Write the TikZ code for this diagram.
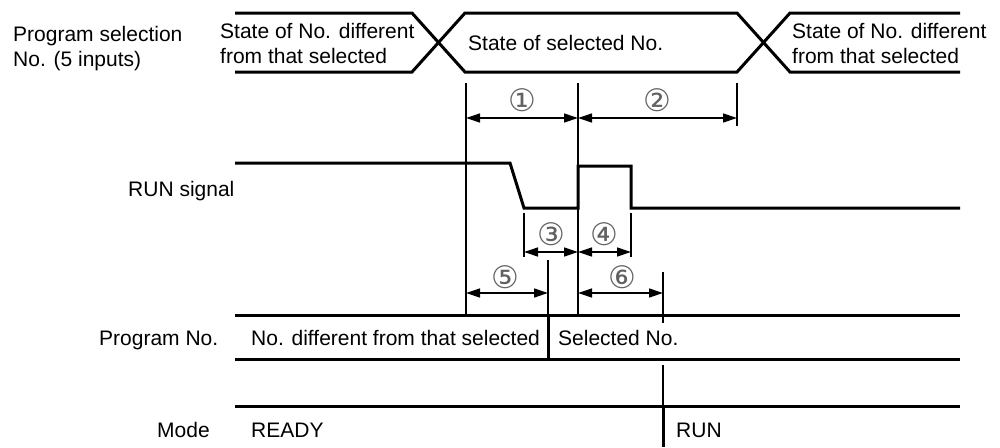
\documentclass[tikz,border=0pt]{standalone}
\usepackage{fontspec}
\setmainfont{Liberation Sans}
\newfontfamily\circfont{DejaVu Sans}
\usetikzlibrary{arrows.meta}
\begin{document}
\begin{tikzpicture}[x=1pt,y=-1pt,
  sig/.style={line width=3pt},
  guide/.style={line width=1.4pt},
  dim/.style={line width=1.3pt,{Triangle[length=14pt,width=9pt]}-{Triangle[length=14pt,width=9pt]}},
  txt/.style={inner sep=0pt,font=\fontsize{21}{25}\selectfont,anchor=base west,align=left},
  num/.style={inner sep=0pt,font=\circfont\fontsize{31}{31}\selectfont,text=black!62},
]
\useasboundingbox (0,0) rectangle (1000,447);

% ---- labels on the left
\node[txt] (lsel1) at (13,41) {Program selection};
\node[txt] (lsel2) at (13,66) {No. (5 inputs)};
\node[txt] (lrun) at (128,196) {RUN signal};
\node[txt] (lprog) at (99,345) {Program No.};
\node[txt] (lmode) at (157,437) {Mode};

% ---- program selection bus
\draw[sig] (235,13) -- (412,13) -- (465,72) -- (737,72) -- (790,13) -- (960,13);
\draw[sig] (235,72) -- (412,72) -- (465,13) -- (737,13) -- (790,72) -- (960,72);
\node[txt] (s1a) at (220,38) {State of No. different};
\node[txt] (s1b) at (220,63) {from that selected};
\node[txt] (s2) at (468,50) {State of selected No.};
\node[txt] (s3a) at (792,38) {State of No. different};
\node[txt] (s3b) at (792,63) {from that selected};

% ---- guide lines
\coordinate (g1t) at (466,83);  \coordinate (g1b) at (466,315);
\coordinate (g2t) at (578,83);  \coordinate (g2b) at (578,315);
\coordinate (g3t) at (737,83);  \coordinate (g3b) at (737,126);
\coordinate (g4t) at (524,213); \coordinate (g4b) at (524,257);
\coordinate (g5t) at (631,213); \coordinate (g5b) at (631,257);
\coordinate (g6t) at (548,260); \coordinate (g6b) at (548,315);
\coordinate (g7t) at (663,272); \coordinate (g7b) at (663,323);
\coordinate (g8t) at (663,365); \coordinate (g8b) at (663,406);
\draw[guide] (g1t) -- (g1b);
\draw[guide] (g2t) -- (g2b);
\draw[guide] (g3t) -- (g3b);
\draw[guide] (g4t) -- (g4b);
\draw[guide] (g5t) -- (g5b);
\draw[guide] (g6t) -- (g6b);
\draw[guide] (g7t) -- (g7b);
\draw[guide] (g8t) -- (g8b);

% ---- RUN signal
\draw[sig] (235,163) -- (510,163) -- (524,208) -- (578,208) -- (578,166) -- (631,166) -- (631,208) -- (960,208);

% ---- dimension arrows
\coordinate (a1l) at (466,118); \coordinate (a1r) at (578,118);
\coordinate (a2l) at (578,118); \coordinate (a2r) at (737,118);
\coordinate (a3l) at (524,252); \coordinate (a3r) at (578,252);
\coordinate (a4l) at (578,252); \coordinate (a4r) at (631,252);
\coordinate (a5l) at (466,293); \coordinate (a5r) at (548,293);
\coordinate (a6l) at (578,293); \coordinate (a6r) at (663,293);
\draw[dim] (a1l) -- (a1r);
\draw[dim] (a2l) -- (a2r);
\draw[dim] (a3l) -- (a3r);
\draw[dim] (a4l) -- (a4r);
\draw[dim] (a5l) -- (a5r);
\draw[dim] (a6l) -- (a6r);
\node[num] (n1) at (522,100) {①};
\node[num] (n2) at (657.5,100) {②};
\node[num] (n3) at (551,234) {③};
\node[num] (n4) at (604.5,234) {④};
\node[num] (n5) at (505,277) {⑤};
\node[num] (n6) at (622,277) {⑥};

% ---- Program No. bus
\draw[sig] (235,315) -- (960,315);
\draw[sig] (235,359) -- (960,359);
\draw[sig] (548,315) -- (548,359);
\node[txt] (p1) at (251,345) {No. different from that selected};
\node[txt] (p2) at (558,345) {Selected No.};

% ---- Mode
\draw[sig] (235,406) -- (960,406);
\draw[sig] (663,406) -- (663,447);
\node[txt] (m1) at (251,437) {READY};
\node[txt] (m2) at (676,437) {RUN};
\end{tikzpicture}
\end{document}
